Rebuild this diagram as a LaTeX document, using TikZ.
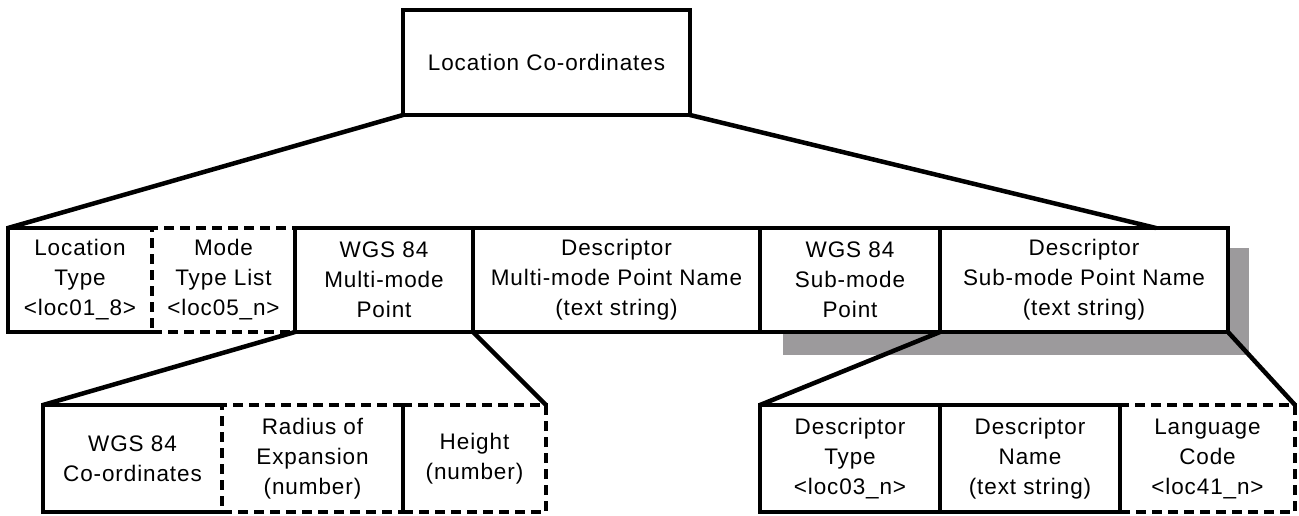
\documentclass[tikz,border=0pt]{standalone}
\usepackage{fontspec}
\setmainfont{Liberation Sans}[LetterSpace=4]
\usetikzlibrary{calc}
\definecolor{shadowgray}{RGB}{156,154,156}
\tikzset{
  box/.style={fill=white, inner sep=0pt, outer sep=0pt, align=center,
    font=\fontsize{22.5}{30}\selectfont},
  solidbox/.style={box, draw=black, line width=4.2pt},
  dashbox/.style={box, draw=black, line width=4.2pt, dash pattern=on 10pt off 6pt},
  openbox/.style={box},
  edgeline/.style={line width=4.2pt, black},
  conn/.style={line width=4.5pt, black},
}
\begin{document}
\begin{tikzpicture}[x=1pt,y=-1pt]
\useasboundingbox (0,0) rectangle (1299,515);
% shadow
\fill[shadowgray] (783,248) rectangle (1249,355);
% top
\node[solidbox, minimum width=287pt, minimum height=105pt] (top) at (546.5,62.5) {Location Co-ordinates};
% row 1
\node[openbox, minimum width=144pt, minimum height=104pt] (r1a) at (80,280) {Location\\Type\\<loc01\_8>};
\draw[edgeline] (r1a.north east) -- (r1a.north west) -- (r1a.south west) -- (r1a.south east);
\node[dashbox, minimum width=143pt, minimum height=104pt] (r1b) at (223.5,280) {Mode\\Type List\\<loc05\_n>};
\node[solidbox, minimum width=178pt, minimum height=104pt] (r1c) at (384,280) {WGS 84\\Multi-mode\\Point};
\node[solidbox, minimum width=287pt, minimum height=104pt] (r1d) at (616.5,280) {Descriptor\\Multi-mode Point Name\\(text string)};
\node[solidbox, minimum width=180pt, minimum height=104pt] (r1e) at (850,280) {WGS 84\\Sub-mode\\Point};
\node[solidbox, minimum width=288pt, minimum height=104pt] (r1f) at (1084,280) {Descriptor\\Sub-mode Point Name\\(text string)};
% row 2 left
\node[openbox, minimum width=179pt, minimum height=107pt] (r2a) at (132.5,458.5) {WGS 84\\Co-ordinates};
\draw[edgeline] (r2a.north east) -- (r2a.north west) -- (r2a.south west) -- (r2a.south east);
\node[dashbox, minimum width=181pt, minimum height=107pt] (r2b) at (312.5,458.5) {Radius of\\Expansion\\(number)};
\node[dashbox, minimum width=143pt, minimum height=107pt] (r2c) at (474.5,458.5) {Height\\(number)};
\draw[edgeline] (r2b.north east) -- (r2b.south east);
% row 2 right
\node[solidbox, minimum width=180pt, minimum height=107pt] (r2d) at (850,458.5) {Descriptor\\Type\\<loc03\_n>};
\node[solidbox, minimum width=180pt, minimum height=107pt] (r2e) at (1030,458.5) {Descriptor\\Name\\(text string)};
\node[dashbox, minimum width=175pt, minimum height=107pt] (r2f) at (1207.5,458.5) {Language\\Code\\<loc41\_n>};
\draw[edgeline] (r2e.north east) -- (r2e.south east);
% connectors
\coordinate (rj) at ($(r1f.north west)!0.75!(r1f.north east)$);
\draw[conn] (top.south west) -- (r1a.north west);
\draw[conn] (top.south east) -- (rj);
\draw[conn] (r1c.south west) -- (r2a.north west);
\draw[conn] (r1c.south east) -- (r2c.north east);
\draw[conn] (r1f.south west) -- (r2d.north west);
\draw[conn] (r1f.south east) -- (r2f.north east);
\end{tikzpicture}
\end{document}
